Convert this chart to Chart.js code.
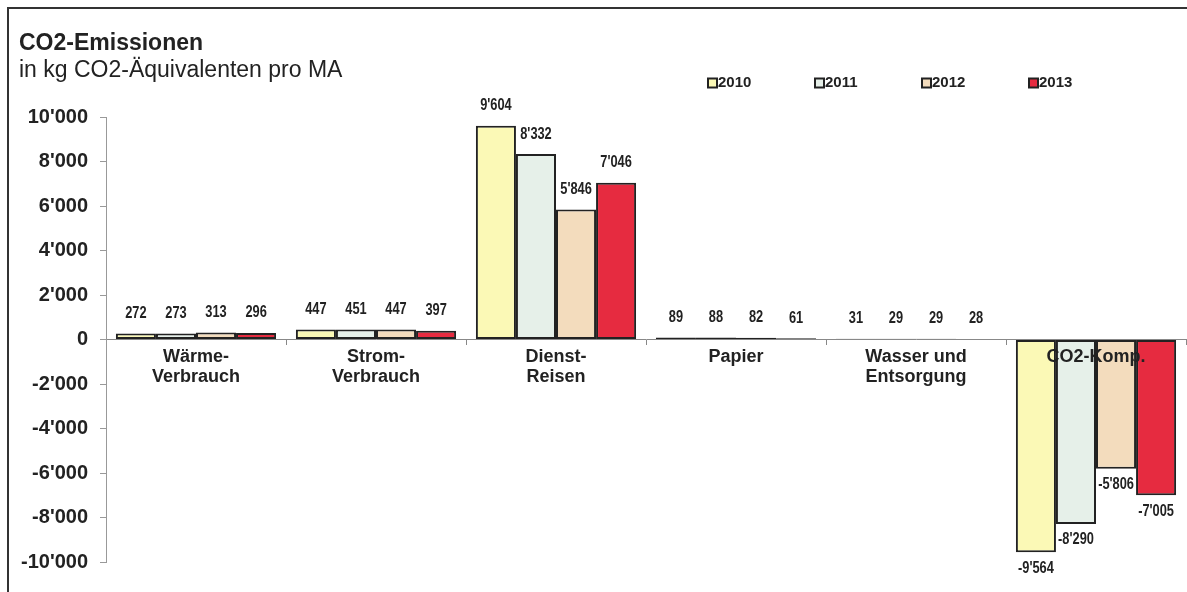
<!DOCTYPE html>
<html>
<head>
<meta charset="utf-8">
<script src="https://cdn.jsdelivr.net/npm/chart.js@4"></script>
<style>
  html, body { margin: 0; padding: 0; background: #fff; }
  #wrap { position: relative; width: 1187px; height: 592px; }
</style>
</head>
<body>
<div id="wrap"><canvas id="co2_chart" width="1187" height="592"></canvas></div>
<script>
const categories = [
    ["Wärme-", "Verbrauch"],
    ["Strom-", "Verbrauch"],
    ["Dienst-", "Reisen"],
    ["Papier"],
    ["Wasser und", "Entsorgung"],
    ["CO2-Komp."]
];
const years = ["2010", "2011", "2012", "2013"];
const values_2010 = [272, 447, 9604, 89, 31, -9564];
const values_2011 = [273, 451, 8332, 88, 29, -8290];
const values_2012 = [313, 447, 5846, 82, 29, -5806];
const values_2013 = [296, 397, 7046, 61, 28, -7005];
const y_ticks = [-10000, -8000, -6000, -4000, -2000, 0, 2000, 4000, 6000, 8000, 10000];

const title_text = "CO2-Emissionen";
const subtitle_text = "in kg CO2-Äquivalenten pro MA";

const pale_yellow = "#fbf9b6";
const pale_mint = "#e6f0e9";
const peach = "#f3dcbd";
const red = "#e62b40";
const ink = "#222222";

function swiss(v) {
    const s = Math.abs(Math.round(v)).toString().replace(/\B(?=(\d{3})+(?!\d))/g, "'");
    return (v < 0 ? "-" : "") + s;
}

// frame, title and legend
const decorations = {
    id: "decorations",
    beforeDraw(chart) {
        const c = chart.ctx;
        c.save();
        c.fillStyle = "#fff";
        c.fillRect(0, 0, chart.width, chart.height);
        c.strokeStyle = "#333";
        c.lineWidth = 2;
        c.beginPath();
        c.moveTo(8, chart.height);
        c.lineTo(8, 8);
        c.lineTo(chart.width, 8);
        c.stroke();
        c.restore();
    },
    afterDraw(chart) {
        const c = chart.ctx;
        c.save();
        c.fillStyle = ink;
        c.textBaseline = "alphabetic";
        c.textAlign = "left";
        c.font = "bold 23px 'Liberation Sans', Arial, sans-serif";
        c.fillText(title_text, 19, 50);
        c.font = "23px 'Liberation Sans', Arial, sans-serif";
        c.fillText(subtitle_text, 19, 77);

        c.font = "bold 15px 'Liberation Sans', Arial, sans-serif";
        c.textBaseline = "middle";
        chart.data.datasets.forEach((ds, i) => {
            const x = 708 + i * 107;
            const y = 83;
            c.fillStyle = ds.backgroundColor;
            c.fillRect(x, y - 4.5, 9, 9);
            c.strokeStyle = ink;
            c.lineWidth = 2;
            c.strokeRect(x, y - 4.5, 9, 9);
            c.fillStyle = ink;
            c.fillText(ds.label, x + 10, y);
        });
        c.restore();
    }
};

// bar values, in a narrow bold face like the original
const value_labels = {
    id: "value_labels",
    afterDatasetsDraw(chart) {
        const c = chart.ctx;
        const squeeze = 0.8;
        c.save();
        c.fillStyle = ink;
        c.textAlign = "center";
        c.textBaseline = "middle";
        c.font = "bold 16px 'Liberation Sans', Arial, sans-serif";
        c.scale(squeeze, 1);
        chart.data.datasets.forEach((ds, i) => {
            chart.getDatasetMeta(i).data.forEach((bar, j) => {
                const v = ds.data[j];
                const y = v >= 0 ? bar.y - 20 : bar.y + 16;
                c.fillText(swiss(v), bar.x / squeeze, y);
            });
        });
        c.restore();
    }
};

const data = {
    labels: categories,
    datasets: [
        { label: years[0], data: values_2010, backgroundColor: pale_yellow },
        { label: years[1], data: values_2011, backgroundColor: pale_mint },
        { label: years[2], data: values_2012, backgroundColor: peach },
        { label: years[3], data: values_2013, backgroundColor: red }
    ].map(d => Object.assign(d, {
        borderColor: ink,
        borderWidth: 2,
        borderSkipped: false,
        categoryPercentage: 0.89,
        barPercentage: 1.0
    }))
};

const config = {
    type: "bar",
    data: data,
    options: {
        responsive: false,
        animation: false,
        layout: { padding: { top: 117, bottom: 30, left: 0, right: 1 } },
        plugins: {
            legend: { display: false },
            title: { display: false },
            tooltip: { enabled: false }
        },
        scales: {
            x: {
                position: { y: 0 },
                grid: {
                    drawOnChartArea: false,
                    drawTicks: true,
                    tickLength: 5,
                    color: "#888",
                    offset: true
                },
                border: { display: true, color: "#888", width: 1 },
                ticks: {
                    z: 1,
                    color: ink,
                    padding: 3,
                    maxRotation: 0,
                    autoSkip: false,
                    font: { family: "'Liberation Sans', Arial, sans-serif", size: 18, weight: "bold", lineHeight: 1.1 }
                }
            },
            y: {
                min: -10000,
                max: 10000,
                afterFit(scale) { scale.width = 106; },
                afterBuildTicks(scale) { scale.ticks = y_ticks.map(v => ({ value: v })); },
                grid: {
                    drawOnChartArea: false,
                    drawTicks: true,
                    tickLength: 6,
                    color: "#999"
                },
                border: { display: true, color: "#999", width: 1 },
                ticks: {
                    color: ink,
                    padding: 12,
                    callback: v => swiss(v),
                    font: { family: "'Liberation Sans', Arial, sans-serif", size: 20, weight: "bold" }
                }
            }
        }
    },
    plugins: [decorations, value_labels]
};

const ctx = document.getElementById("co2_chart");
const co2_chart = new Chart(ctx, config);
</script>
</body>
</html>
